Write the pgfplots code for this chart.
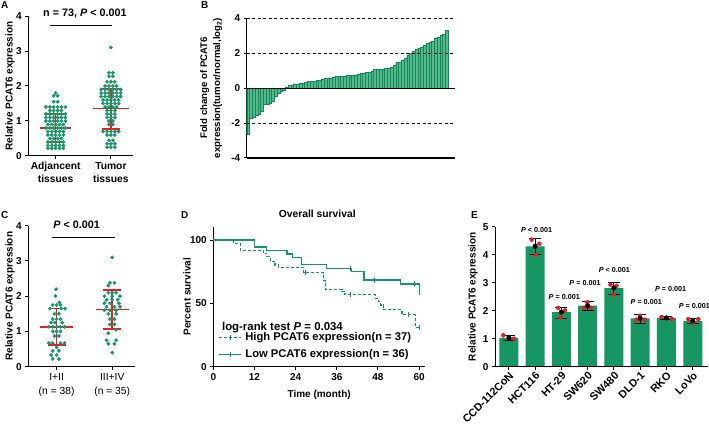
\documentclass[border=0pt]{standalone}
\usepackage{fontspec}
\setmainfont{Liberation Sans}
\usepackage{pgfplots}
\pgfplotsset{compat=1.18}
\definecolor{pgreen}{RGB}{25,150,105}
\definecolor{bfill}{RGB}{85,185,140}
\definecolor{bedge}{RGB}{20,135,90}
\definecolor{egreen}{RGB}{22,150,98}
\definecolor{pred}{RGB}{232,30,35}
\newcommand{\fs}{\fontsize{10}{12}\selectfont\bfseries}
\newcommand{\lf}{\fontsize{11.2}{13}\selectfont\bfseries}
\pgfplotsset{gp/.style={scale only axis, anchor=south west, axis lines*=left,
  axis line style={-, line width=1pt}, tick style={black, line width=1pt},
  major tick length=3pt, tick align=outside, tick label style={font=\fs},
  label style={font=\fs}, clip=false, /pgf/number format/assume math mode=true}}
\begin{document}
\begin{tikzpicture}
\useasboundingbox (0pt,0pt) rectangle (709pt,426pt);
\node[anchor=north west, font=\fs, inner sep=0] at (1pt,425pt) {A};
\node[anchor=north west, font=\fs, inner sep=0] at (201pt,425pt) {B};
\node[anchor=north west, font=\fs, inner sep=0] at (1pt,215pt) {C};
\node[anchor=north west, font=\fs, inner sep=0] at (181pt,215pt) {D};
\node[anchor=north west, font=\fs, inner sep=0] at (471pt,215pt) {E};

% ---------------- Panel A
\begin{axis}[gp, at={(28.3pt,270pt)}, width=104.7pt, height=140pt,
  xmin=0.505, xmax=2.4, ymin=0, ymax=4, ytick={0,1,2,3,4},
  xtick={1,2}, xticklabels={Adjancent\\tissues, Tumor\\tissues},
  xticklabel style={align=center, font=\fontsize{10.3}{13}\selectfont\bfseries},
  ylabel={Relative PCAT6 expression},
  ylabel style={at={(axis description cs:-0.175,0.5)}, anchor=center}]
\addplot[only marks, mark=*, mark size=1.7pt, color=pgreen] coordinates {
(1,1.80)
(0.965,1.72)(1.035,1.72)
(0.965,1.55)(1.035,1.55)
(0.825,1.40)(0.895,1.40)(0.965,1.40)(1.035,1.40)(1.105,1.40)(1.175,1.40)
(0.895,1.30)(0.965,1.30)(1.035,1.30)(1.105,1.30)
(0.825,1.20)(0.895,1.20)(0.965,1.20)(1.035,1.20)(1.105,1.20)(1.175,1.20)
(0.825,1.10)(0.895,1.10)(0.965,1.10)(1.035,1.10)(1.105,1.10)(1.175,1.10)
(0.825,1.00)(0.895,1.00)(0.965,1.00)(1.035,1.00)(1.105,1.00)(1.175,1.00)
(0.86,0.90)(0.93,0.90)(1,0.90)(1.07,0.90)(1.14,0.90)
(0.825,0.80)(0.895,0.80)(0.965,0.80)(1.035,0.80)(1.105,0.80)(1.175,0.80)
(0.86,0.70)(0.93,0.70)(1,0.70)(1.07,0.70)(1.14,0.70)
(0.86,0.60)(0.93,0.60)(1,0.60)(1.07,0.60)(1.14,0.60)
(0.895,0.50)(0.965,0.50)(1.035,0.50)(1.105,0.50)
(0.86,0.40)(0.93,0.40)(1,0.40)(1.07,0.40)(1.14,0.40)
(0.86,0.30)(0.93,0.30)(1,0.30)(1.07,0.30)(1.14,0.30)
(0.86,0.22)(0.93,0.22)(1,0.22)(1.07,0.22)(1.14,0.22)
(2,3.10)
(1.965,2.38)(2.035,2.38)
(1.965,2.28)(2.035,2.28)
(1.93,2.12)(2,2.12)(2.07,2.12)
(1.895,2.00)(1.965,2.00)(2.035,2.00)(2.105,2.00)
(1.825,1.90)(1.895,1.90)(1.965,1.90)(2.035,1.90)(2.105,1.90)(2.175,1.90)
(1.825,1.80)(1.895,1.80)(1.965,1.80)(2.035,1.80)(2.105,1.80)(2.175,1.80)
(1.825,1.70)(1.895,1.70)(1.965,1.70)(2.035,1.70)(2.105,1.70)(2.175,1.70)
(1.86,1.60)(1.93,1.60)(2,1.60)(2.07,1.60)(2.14,1.60)
(1.86,1.50)(1.93,1.50)(2,1.50)(2.07,1.50)(2.14,1.50)
(1.895,1.40)(1.965,1.40)(2.035,1.40)(2.105,1.40)
(1.93,1.30)(2,1.30)(2.07,1.30)
(1.93,1.20)(2,1.20)(2.07,1.20)
(1.93,1.10)(2,1.10)(2.07,1.10)
(1.965,1.00)(2.035,1.00)
(1.965,0.90)(2.035,0.90)
(1.86,0.70)(1.93,0.70)(2,0.70)(2.07,0.70)(2.14,0.70)
(1.93,0.60)(2,0.60)(2.07,0.60)
(1.965,0.45)(2.035,0.45)
(1.93,0.35)(2,0.35)(2.07,0.35)
(1.93,0.25)(2,0.25)(2.07,0.25)
};
\addplot[pred, line width=1.5pt] coordinates {(0.72,0.80)(1.28,0.80)};
\addplot[pred, line width=1.5pt] coordinates {(0.84,1.20)(1.16,1.20)};
\addplot[pred, line width=1.5pt] coordinates {(0.84,0.40)(1.16,0.40)};
\addplot[pred, line width=1.5pt] coordinates {(1,0.40)(1,1.20)};
\addplot[pred, line width=1.5pt] coordinates {(1.67,1.35)(2.33,1.35)};
\addplot[pred, line width=1.5pt] coordinates {(1.84,1.93)(2.16,1.93)};
\addplot[pred, line width=1.5pt] coordinates {(1.84,0.77)(2.16,0.77)};
\addplot[pred, line width=1.5pt] coordinates {(2,0.77)(2,1.93)};
\addplot[black, line width=1pt] coordinates {(0.9,3.72)(2.02,3.72)};
\node[font=\fontsize{10.8}{12}\selectfont\bfseries] at (axis cs:1.53,4.08) {n = 73, \textit{P} < 0.001};
\end{axis}

% ---------------- Panel B
\begin{axis}[gp, at={(246.7pt,268pt)}, width=208.3pt, height=140pt,
  xmin=0.5, xmax=76, ymin=-4, ymax=4, ytick={-4,-2,0,2,4}, xmajorticks=false,
  x axis line style={black, line width=1.2pt},
  ylabel={Fold change of PCAT6\\expression(tumor/normal,log\textsubscript{2})},
  ylabel style={align=center, at={(axis description cs:-0.171,0.5)}, anchor=center,
    font=\fontsize{9.6}{13}\selectfont\bfseries}]
\addplot[ybar, bar width=2.76pt, fill=bfill, draw=bedge, line width=0.35pt] coordinates {
(1,-2.63)(2,-1.70)(3,-1.66)(4,-1.58)(5,-1.52)(6,-1.35)(7,-0.92)(8,-0.90)(9,-0.88)(10,-0.75)
(11,-0.45)(12,-0.30)(13,-0.20)(14,-0.10)(15,0.02)(16,0.15)(17,0.17)(18,0.20)(19,0.22)(20,0.27)
(21,0.30)(22,0.35)(23,0.37)(24,0.38)(25,0.40)(26,0.42)(27,0.45)(28,0.50)(29,0.55)(30,0.57)
(31,0.58)(32,0.62)(33,0.65)(34,0.66)(35,0.68)(36,0.70)(37,0.72)(38,0.73)(39,0.74)(40,0.76)
(41,0.80)(42,0.83)(43,0.85)(44,0.88)(45,0.92)(46,0.98)(47,1.05)(48,1.07)(49,1.08)(50,1.10)
(51,1.12)(52,1.15)(53,1.20)(54,1.30)(55,1.45)(56,1.50)(57,1.60)(58,1.70)(59,1.85)(60,2.00)
(61,2.10)(62,2.20)(63,2.30)(64,2.35)(65,2.45)(66,2.55)(67,2.60)(68,2.65)(69,2.85)(70,2.90)
(71,3.00)(72,3.10)(73,3.30)
};
\addplot[black, line width=1pt] coordinates {(0.5,0)(76,0)};
\addplot[black, line width=1.2pt] coordinates {(0.5,-4)(76,-4)};
\draw[black, line width=1.2pt] (axis cs:0.5,-4) -- (axis cs:76,-4);
\addplot[black, line width=1pt, dash pattern=on 3pt off 2.5pt] coordinates {(0.5,4)(76,4)};
\addplot[black, line width=1pt, dash pattern=on 3pt off 2.5pt] coordinates {(0.5,2)(76,2)};
\addplot[black, line width=1pt, dash pattern=on 3pt off 2.5pt] coordinates {(0.5,-2)(76,-2)};
\end{axis}

% ---------------- Panel C
\begin{axis}[gp, at={(28.3pt,59.3pt)}, width=106.7pt, height=141pt,
  xmin=0.49, xmax=2.41, ymin=0, ymax=4, ytick={0,1,2,3,4},
  xtick={1,2}, xticklabels={I+II\\(n = 38), III+IV\\(n = 35)},
  xticklabel style={align=center, font=\fontsize{10.3}{14}\selectfont\mdseries},
  ylabel={Relative PCAT6 expression},
  ylabel style={at={(axis description cs:-0.172,0.5)}, anchor=center}]
\addplot[only marks, mark=*, mark size=1.7pt, color=pgreen] coordinates {
(0.99,2.20)
(0.98,2.00)
(1.05,1.82)
(0.93,1.75)(1.0,1.75)(1.07,1.75)
(0.88,1.65)(1.08,1.65)(1.15,1.65)
(0.96,1.50)(1.04,1.50)
(0.93,1.35)(1.0,1.35)(1.07,1.35)
(0.9,1.25)(0.97,1.25)(1.1,1.25)
(0.86,1.13)(0.93,1.13)(1,1.13)(1.07,1.13)(1.14,1.13)
(0.93,1.00)(1.0,1.00)(1.07,1.00)
(0.96,0.87)(1.04,0.87)
(0.86,0.67)(0.93,0.67)(1.07,0.67)(1.14,0.67)
(1.0,0.55)
(0.93,0.45)(1.04,0.45)
(0.9,0.33)(1.0,0.33)
(0.93,0.22)(1.04,0.22)
(2,3.10)
(1.96,2.38)(2.04,2.38)
(1.93,2.30)
(1.93,2.10)(2,2.10)(2.07,2.10)
(1.86,2.00)(2.0,2.00)(2.14,2.00)
(1.9,1.90)(2.0,1.90)(2.1,1.90)
(1.86,1.80)(1.96,1.80)(2.12,1.80)
(1.9,1.70)(2.04,1.70)(2.14,1.70)
(1.86,1.60)(1.96,1.60)(2.07,1.60)
(1.93,1.50)(2.07,1.50)
(1.96,1.35)(2.04,1.35)
(1.96,1.20)(2.04,1.20)
(2.07,1.05)
(1.93,0.95)
(1.9,0.75)(2.07,0.75)
(1.93,0.65)(2.04,0.65)
(2.0,0.40)
};
\addplot[pred, line width=1.5pt] coordinates {(0.7,1.13)(1.3,1.13)};
\addplot[pred, line width=1.5pt] coordinates {(0.84,1.65)(1.16,1.65)};
\addplot[pred, line width=1.5pt] coordinates {(0.84,0.61)(1.16,0.61)};
\addplot[pred, line width=1.5pt] coordinates {(1,0.61)(1,1.65)};
\addplot[pred, line width=1.5pt] coordinates {(1.7,1.62)(2.3,1.62)};
\addplot[pred, line width=1.5pt] coordinates {(1.84,2.17)(2.16,2.17)};
\addplot[pred, line width=1.5pt] coordinates {(1.84,1.07)(2.16,1.07)};
\addplot[pred, line width=1.5pt] coordinates {(2,1.07)(2,2.17)};
\addplot[black, line width=1pt] coordinates {(0.91,3.67)(2.05,3.67)};
\node[font=\fontsize{10.8}{12}\selectfont\bfseries] at (axis cs:1.36,4.03) {\textit{P} < 0.001};
\end{axis}

% ---------------- Panel D
\begin{axis}[gp, at={(213.3pt,59.3pt)}, width=211.7pt, height=140pt,
  xmin=0, xmax=61.7, ymin=0, ymax=110.5, xtick={0,12,24,36,48,60}, ytick={0,50,100},
  xlabel={Time (month)}, ylabel={Percent survival},
  xlabel style={at={(axis description cs:0.5,-0.2)}, anchor=center},
  ylabel style={at={(axis description cs:-0.124,0.5)}, anchor=center}]
\addplot[pgreen, line width=1.2pt, dash pattern=on 3pt off 2pt, const plot mark left] coordinates {
(0,100)(5.9,97.4)(7.9,92)(14.7,89.5)(15.6,86.8)(16.6,83)(18,80.3)(19,78.5)(26.3,74.3)(32.1,68)
(32.6,61.2)(37.5,59.3)(38.4,56.7)(47.2,54)(48.2,51.4)(48.8,48.7)(49.6,44.9)(55,40.9)(59,31)(60,31)};
\addplot[pgreen, line width=1.2pt, const plot mark left] coordinates {
(0,100)(12,94.4)(15.5,91.6)(21.5,88.9)(23,86.1)(25.8,80.6)(33,77.8)(40.3,75)(43.9,68.4)(54.6,65.3)(60,56.6)};
\addplot[only marks, mark=|, mark size=2.5pt, color=pgreen, mark options={pgreen, line width=1pt}] coordinates {
(26.8,74.3)(40,56.7)(57,40.9)(60,31)};
\addplot[only marks, mark=|, mark size=2.5pt, color=pgreen, mark options={pgreen, line width=1pt}] coordinates {
(40,77.8)(47,68.4)(58.5,65.3)};
% legend samples
\addplot[pgreen, line width=1.2pt, dash pattern=on 3pt off 2pt] coordinates {(1.75,22.8)(8.2,22.8)};
\addplot[pgreen, line width=1.2pt] coordinates {(1.75,9.4)(8.2,9.4)};
\addplot[only marks, mark=|, mark size=2.5pt, color=pgreen, mark options={pgreen, line width=1pt}] coordinates {(5,22.8)(5,9.4)};
\node[anchor=west, font=\lf, inner sep=0pt] at (axis cs:9.3,22.8) {High PCAT6 expression(n = 37)};
\node[anchor=west, font=\lf, inner sep=0pt] at (axis cs:9.3,9.4) {Low PCAT6 expression(n = 36)};
\node[anchor=west, font=\fontsize{11.4}{13}\selectfont\bfseries, inner sep=0pt] at (axis cs:2.5,30.7) {log-rank test \textit{P} = 0.034};
\node[font=\fontsize{10.3}{12}\selectfont\bfseries] at (axis cs:30.3,121) {Overall survival};
\end{axis}

% ---------------- Panel E
\begin{axis}[gp, at={(495pt,59.3pt)}, width=213pt, height=140pt,
  xmin=-0.525, xmax=7.58, ymin=0, ymax=5, ytick={0,1,2,3,4,5},
  xtick={0,...,7}, xticklabels={CCD-112CoN,HCT116,HT-29,SW620,SW480,DLD-1,RKO,LoVo},
  xticklabel style={rotate=45, anchor=north east, font=\fontsize{10.8}{12}\selectfont\bfseries, inner sep=1pt},
  ylabel={Relative PCAT6 expression},
  ylabel style={at={(axis description cs:-0.103,0.5)}, anchor=center}]
\addplot[ybar, bar width=19pt, fill=egreen, draw=none] coordinates {
(0,1.03)(1,4.30)(2,1.95)(3,2.18)(4,2.81)(5,1.73)(6,1.74)(7,1.64)};
\addplot[only marks, mark=*, mark size=2pt, pred] coordinates {
(-0.21,1.12)(0.02,1.02)(0.2,1.00)
(0.87,4.54)(1.16,4.39)(1.03,4.00)
(1.88,2.10)(2.14,2.01)(1.97,1.76)
(2.99,2.30)(2.86,2.10)(3.13,2.10)
(3.87,2.93)(4.1,2.89)(4.0,2.57)
(4.99,1.82)(4.86,1.68)(5.18,1.68)
(5.81,1.77)(6.0,1.75)(6.2,1.71)
(6.83,1.70)(7.21,1.70)(7.02,1.56)};
\addplot[black, line width=1pt, only marks, mark=none,
  error bars/.cd, y dir=both, y explicit,
  error bar style={black, line width=1pt},
  error mark options={rotate=90, black, line width=1pt, mark size=6pt}] coordinates {
(0,1.03) += (0,0.08) -= (0,0.09)
(1,4.30) += (0,0.27) -= (0,0.28)
(2,1.95) += (0,0.18) -= (0,0.24)
(3,2.18) += (0,0.15) -= (0,0.17)
(4,2.81) += (0,0.18) -= (0,0.24)
(5,1.73) += (0,0.13) -= (0,0.17)
(6,1.74) += (0,0.06) -= (0,0.04)
(7,1.64) += (0,0.09) -= (0,0.10)};
\addplot[black, line width=1pt] coordinates {(-0.525,0)(7.58,0)};
\node[font=\fontsize{7.2}{8}\selectfont\bfseries] at (axis cs:1.06,4.89) {\textit{P} < 0.001};
\node[font=\fontsize{7.2}{8}\selectfont\bfseries] at (axis cs:2.11,2.49) {\textit{P} = 0.001};
\node[font=\fontsize{7.2}{8}\selectfont\bfseries] at (axis cs:2.9,2.99) {\textit{P} = 0.001};
\node[font=\fontsize{7.2}{8}\selectfont\bfseries] at (axis cs:4.02,3.46) {\textit{P} < 0.001};
\node[font=\fontsize{7.2}{8}\selectfont\bfseries] at (axis cs:5.23,2.30) {\textit{P} = 0.001};
\node[font=\fontsize{7.2}{8}\selectfont\bfseries] at (axis cs:6.16,2.79) {\textit{P} = 0.001};
\node[font=\fontsize{7.2}{8}\selectfont\bfseries] at (axis cs:7.06,2.18) {\textit{P} = 0.001};
\end{axis}
\end{tikzpicture}
\end{document}
